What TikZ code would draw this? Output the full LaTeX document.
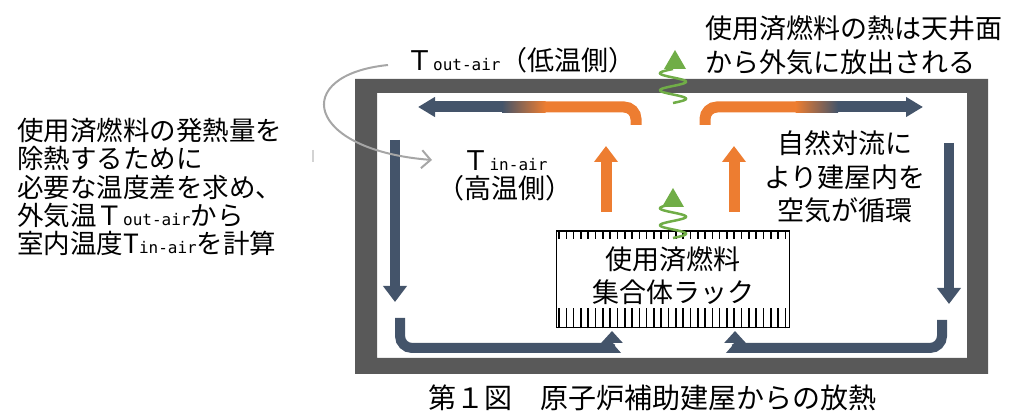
\documentclass[tikz,border=0pt]{standalone}
\usepackage{fontspec}
\newfontfamily\jpfont{Noto Sans CJK JP}
\newfontfamily\airfont{DejaVu Sans Mono}
\usetikzlibrary{arrows.meta,calc}
\definecolor{wallgray}{HTML}{595959}
\definecolor{coolblue}{HTML}{44546A}
\definecolor{warmorange}{HTML}{ED7D31}
\definecolor{heatgreen}{HTML}{70AD47}
\definecolor{notegray}{HTML}{A6A6A6}
\newcommand{\airsub}[1]{{\airfont\fontsize{16}{16}\selectfont #1}}

\begin{document}
\begin{tikzpicture}[x=1pt,y=-1pt,
    label/.style={font=\jpfont\fontsize{27}{33}\selectfont,inner sep=0pt},
    coolflow/.style={coolblue,line width=10pt,rounded corners=12pt},
    warmflow/.style={warmorange,line width=11pt,rounded corners=12pt},
    bighead/.style={-{Triangle[width=23pt,length=16pt]}},
    sidehead/.style={-{Triangle[width=19pt,length=17pt]}},
    tooth/.style={line width=1.6pt},
    heat/.style={heatgreen,line width=2.5pt}]
  \useasboundingbox (0,0) rectangle (1015,411);

  % building wall
  \fill[wallgray,even odd rule] (355,79) rectangle (988,374)
    (377,93) rectangle (967,358);

  % fuel rack
  \node[draw,line width=1pt,minimum width=233pt,minimum height=96pt,
    inner sep=0pt] (rack) at (673,280) {};
  \draw[line width=2pt] (rack.north west) -- (rack.north east);
  \foreach \i in {0,...,31} {
    \draw[tooth] ($(rack.north west)+(3+7.3*\i,0)$) -- ++(0,8);
    \draw[tooth] ($(rack.south west)+(3+7.3*\i,0)$) -- ++(0,-20);
  }
  \node[label,align=center,font=\jpfont\fontsize{27}{33}\selectfont]
    (racktext) at (673,276) {使用済燃料\\集合体ラック};

  % air flow
  \coordinate (warmL) at (606,212);
  \coordinate (warmR) at (734,212);
  \draw[warmflow,bighead] (warmL) -- (606,146);
  \draw[warmflow,bighead] (warmR) -- (734,146);

  \draw[warmflow] (636,125) -- (636,107) -- (545,107);
  \shade[left color=coolblue,right color=warmorange]
    (502,101.5) rectangle (545.5,112.5);
  \draw[coolblue,line width=11pt,sidehead] (502.5,107) -- (418,107);

  \draw[warmflow] (705,125) -- (705,107) -- (796,107);
  \shade[left color=warmorange,right color=coolblue]
    (795.5,101.5) rectangle (838,112.5);
  \draw[coolblue,line width=11pt,sidehead] (837.5,107) -- (923,107);

  \draw[coolflow,bighead] (395,140) -- (395,302);
  \draw[coolflow,bighead] (949,143) -- (949,304);
  \draw[coolflow,-{Triangle[width=21pt,length=12pt]}]
    (400,318) -- (400,348) -- (598,348) to[out=0,in=-90] (612,331);
  \draw[coolflow,-{Triangle[width=21pt,length=12pt]}]
    (942,320) -- (942,348) -- (749,348) to[out=180,in=-90] (735,331);

  % heat release
  \draw[heat] plot[domain=0:34,samples=80,smooth]
    ({673+13*sin(\x/8.5*180)},{103-\x});
  \fill[heatgreen] (675,50) -- (686,69) -- (664,69) -- cycle;
  \draw[heat] plot[domain=0:33,samples=80,smooth]
    ({673+13*sin(\x/8.5*180)},{238-\x});
  \fill[heatgreen] (673,188) -- (684,207) -- (662,207) -- cycle;

  % labels
  \node[label,anchor=west] (toutair) at (406,60)
    {Ｔ\airsub{out-air}（低温側）};
  \node[label,align=center,font=\jpfont\fontsize{27}{28}\selectfont]
    (tinair) at (505,176) {Ｔ\airsub{in-air}\\（高温側）};
  \node[label,align=left,anchor=west,font=\jpfont\fontsize{26.5}{28.3}\selectfont]
    (method) at (17,187) {使用済燃料の発熱量を\\除熱するために\\必要な温度差を求め、\\
      外気温Ｔ\airsub{out-air}から\\室内温度T\airsub{in-air}を計算};
  \node[label,align=left,anchor=west,font=\jpfont\fontsize{27}{34}\selectfont]
    (release) at (705,45) {使用済燃料の熱は天井面\\から外気に放出される};
  \node[label,align=center,font=\jpfont\fontsize{27}{33.5}\selectfont]
    (convect) at (845,177) {自然対流に\\より建屋内を\\空気が循環};
  \node[label,font=\jpfont\fontsize{28}{28}\selectfont]
    (caption) at (652,398) {第１図　原子炉補助建屋からの放熱};

  % note arrow
  \coordinate (noteS) at (388,65);
  \coordinate (noteE) at (432,160);
  \draw[notegray,line width=2pt,-{Straight Barb[length=9pt,width=18pt]}]
    (noteS) .. controls (290,75) and (305,150) .. (noteE);
  \draw[notegray!50,line width=1.5pt] (313,150) -- (313,162);
\end{tikzpicture}
\end{document}
